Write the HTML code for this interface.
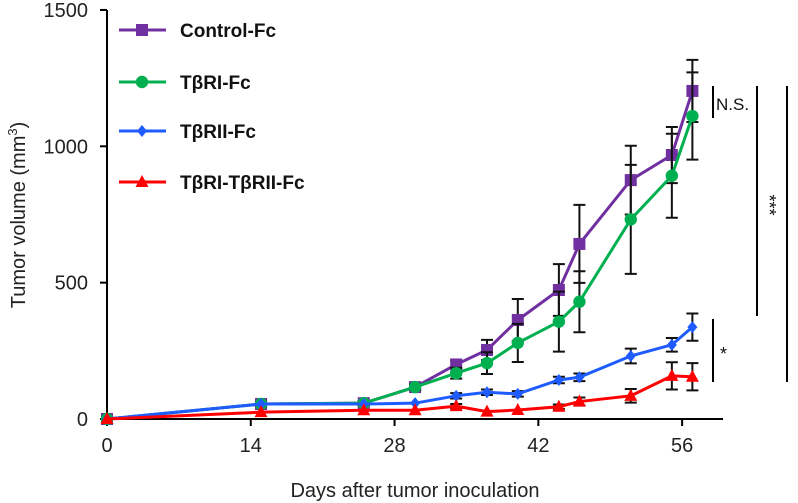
<!DOCTYPE html>
<html><head><meta charset="utf-8"><style>
body{margin:0;background:#fff}
svg{display:block;font-family:"Liberation Sans",Arial,sans-serif}
</style></head><body>
<svg id="chart" width="798" height="503" viewBox="0 0 798 503"></svg>
<script>
const days = [0,15,25,30,34,37,40,44,46,51,55,57];
const controlVals = [0,55,58,117,200,253,363,473,642,876,968,1203];
const controlErr  = [0,8,8,10,15,37,77,95,143,126,103,114];
const tbr1Vals = [0,55,58,117,168,205,279,357,430,732,892,1111];
const tbr1Err  = [0,8,8,10,20,40,70,110,112,200,154,160];
const tbr2Vals = [0,55,55,58,85,98,92,143,153,231,272,337];
const tbr2Err  = [0,6,6,6,10,10,10,12,14,27,25,50];
const fusionVals = [0,25,32,32,47,27,33,45,64,85,158,155];
const fusionErr  = [0,5,5,5,8,6,6,8,15,25,50,50];
const xTicks = [0,14,28,42,56];
const yTicks = [0,500,1000,1500];
const seriesNames = ["Control-Fc","TβRI-Fc","TβRII-Fc","TβRI-TβRII-Fc"];

const NS="http://www.w3.org/2000/svg";
const svg=document.getElementById('chart');
const X=d=>107+d*10.27;
const Y=v=>419-v*0.2727;
function el(t,a,p){const e=document.createElementNS(NS,t);for(const k in a)e.setAttribute(k,a[k]);(p||svg).appendChild(e);return e;}

let ax=el('line',{x1:107,y1:10,x2:107,y2:419,stroke:'#000','stroke-width':2});


ax=el('line',{x1:106,y1:419,x2:723,y2:419,stroke:'#000','stroke-width':2});


yTicks.forEach(v=>{
  const t=el('line',{x1:100,x2:107,y1:Y(v),y2:Y(v),stroke:'#000','stroke-width':2});
  
  
  const l=el('text',{x:88,y:Y(v)+7,'text-anchor':'end','font-size':20,fill:'#222'});
  l.textContent=v;
  
  
});
xTicks.forEach(d=>{
  const t=el('line',{x1:X(d),x2:X(d),y1:419,y2:426,stroke:'#000','stroke-width':2});
  
  
  const l=el('text',{x:X(d),y:452,'text-anchor':'middle','font-size':20,fill:'#222'});
  l.textContent=d;
  
  
});
let tt=el('text',{x:415,y:497,'text-anchor':'middle','font-size':20,fill:'#222'});
tt.textContent='Days after tumor inoculation';


tt=el('text',{x:0,y:0,'text-anchor':'middle','font-size':20,fill:'#222',transform:'translate(25,215) rotate(-90)'});
tt.innerHTML='Tumor volume (mm<tspan dy="-8" font-size="13">3</tspan><tspan dy="8">)</tspan>';



const colors=['#7030a0','#00b050','#1f5cff','#ff0000'];
const shapes=['square','circle','diamond','triangle'];
function marker(g,shape,x,y,c){
  if(shape==='square')return el('rect',{x:x-6,y:y-6,width:12,height:12,fill:c},g);
  if(shape==='circle')return el('circle',{cx:x,cy:y,r:6.2,fill:c},g);
  if(shape==='diamond')return el('polygon',{points:`${x},${y-6} ${x+5},${y} ${x},${y+6} ${x-5},${y}`,fill:c},g);
  return el('polygon',{points:`${x},${y-7} ${x+6.5},${y+5} ${x-6.5},${y+5}`,fill:c},g);
}
const allVals=[controlVals,tbr1Vals,tbr2Vals,fusionVals];
const allErr=[controlErr,tbr1Err,tbr2Err,fusionErr];
allVals.forEach((vals,i)=>{
  const g=el('g',{});
  
  
  vals.forEach((v,j)=>{
    const e=allErr[i][j]; if(e<=6)return;
    const x=X(days[j]);
    const eb=el('path',{d:`M${x},${Y(v-e)}V${Y(v+e)}M${x-6},${Y(v-e)}H${x+6}M${x-6},${Y(v+e)}H${x+6}`,stroke:'#111','stroke-width':2,fill:'none'},g);
    
    
  });
  const ln=el('polyline',{points:vals.map((v,j)=>X(days[j])+','+Y(v)).join(' '),fill:'none',stroke:colors[i],'stroke-width':3},g);
  
  
  vals.forEach((v,j)=>{
    const m=marker(g,shapes[i],X(days[j]),Y(v),colors[i]);
    
    
  });
});
const legY=[30,82,131,182];
seriesNames.forEach((n,i)=>{
  const g=el('g',{});
  
  
  el('line',{x1:119,x2:166,y1:legY[i],y2:legY[i],stroke:colors[i],'stroke-width':3},g);
  marker(g,shapes[i],142,legY[i],colors[i]);
  const t=el('text',{x:180,y:legY[i]+7,'font-size':19,'font-weight':'bold',fill:'#111'},g);
  t.textContent=n;
});
function sig(x,y1,y2,label,tx,ty,rot,fs){
  const g=el('g',{});
  
  
  el('line',{x1:x,x2:x,y1:y1,y2:y2,stroke:'#000','stroke-width':2},g);
  const t=el('text',{x:tx,y:ty,'font-size':fs,fill:'#111','text-anchor':rot?'middle':'start',transform:rot?`rotate(90 ${tx} ${ty})`:''},g);
  t.textContent=label;
}
sig(713,86,118,'N.S.',716,110,false,17);
sig(713,319,382,'*',720,360,false,18);
sig(757,86,316,'***',763,205,true,18);
sig(787,86,382,'***',792,235,true,18);
</script>
</body></html>
